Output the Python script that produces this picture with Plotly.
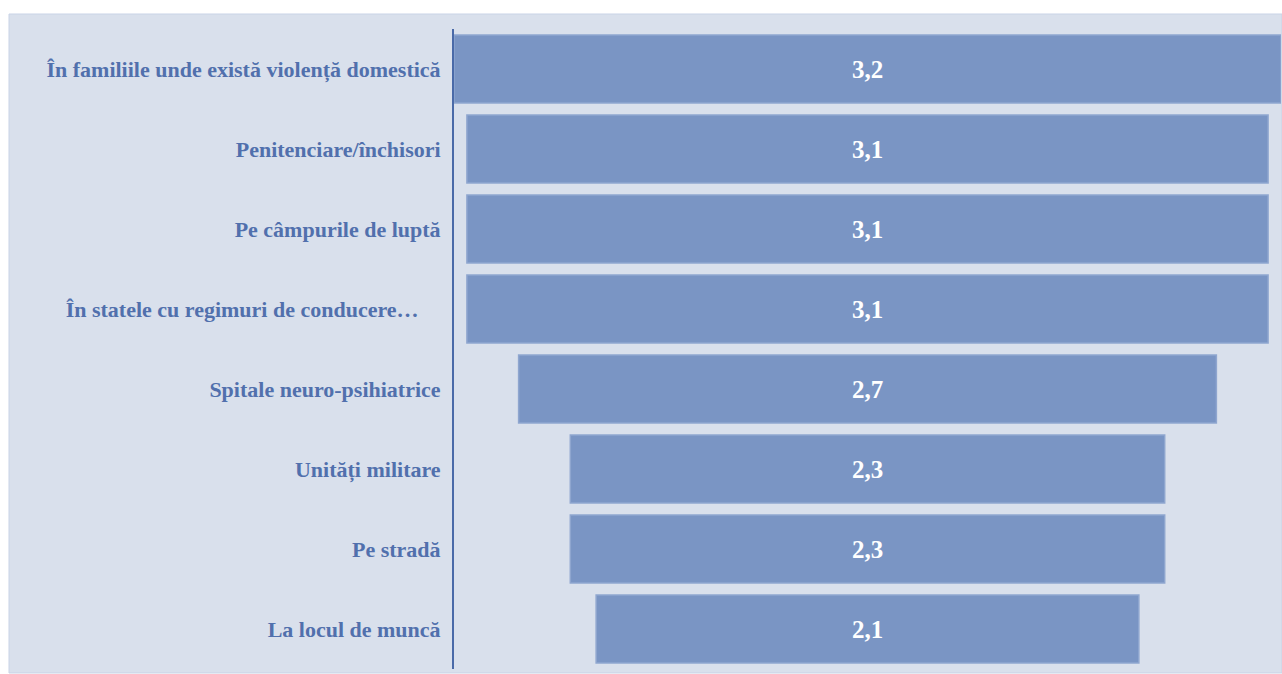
import plotly.graph_objects as go

categories = [
    "În familiile unde există violență domestică",
    "Penitenciare/închisori",
    "Pe câmpurile de luptă",
    "În statele cu regimuri de conducere…\u00a0\u00a0\u00a0\u00a0",
    "Spitale neuro-psihiatrice",
    "Unități militare",
    "Pe stradă",
    "La locul de muncă",
]
values = [3.2, 3.1, 3.1, 3.1, 2.7, 2.3, 2.3, 2.1]
value_labels = [f"{v:.1f}".replace(".", ",") for v in values]

W, H = 1282, 674
L, R, T, B = 454, 1, 29, 5
pw = W - L - R
ph = H - T - B

fig = go.Figure(go.Funnel(
    y=categories,
    x=values,
    text=value_labels,
    texttemplate="%{text}",
    textposition="inside",
    insidetextanchor="middle",
    textfont=dict(family="Liberation Serif", size=25, color="white", weight="bold"),
    marker=dict(color="#7a95c4", line=dict(color="#8fa6cf", width=1.5)),
    connector=dict(visible=False),
    hoverinfo="y+x",
))

# chart-area background panel (pixel -> paper conversion)
x0 = (9 - L) / pw
x1 = (W - L) / pw
y_top = (H - B - 14) / ph
y_bot = (H - B - 673) / ph
fig.add_shape(type="rect", xref="paper", yref="paper", x0=x0, x1=x1, y0=y_bot, y1=y_top,
              fillcolor="#d9e0ec", line=dict(color="#c9d3e6", width=1), layer="below")

fig.update_layout(
    width=W, height=H,
    margin=dict(l=L, r=R, t=T, b=B),
    paper_bgcolor="white",
    plot_bgcolor="rgba(0,0,0,0)",
    funnelgap=0.15,
    showlegend=False,
    xaxis=dict(visible=False, range=[-1.6, 1.6], fixedrange=True),
    yaxis=dict(
        autorange="reversed",
        showline=True, linecolor="#4a6aa8", linewidth=2,
        showgrid=False, zeroline=False,
        ticks="outside", ticklen=7, tickcolor="rgba(0,0,0,0)",
        tickfont=dict(family="Liberation Serif", size=22, color="#5170ad", weight="bold"),
    ),
)

fig.write_html("out.html", config={"displayModeBar": False},
               post_script="document.body.style.margin='0';document.body.style.overflow='hidden';")
